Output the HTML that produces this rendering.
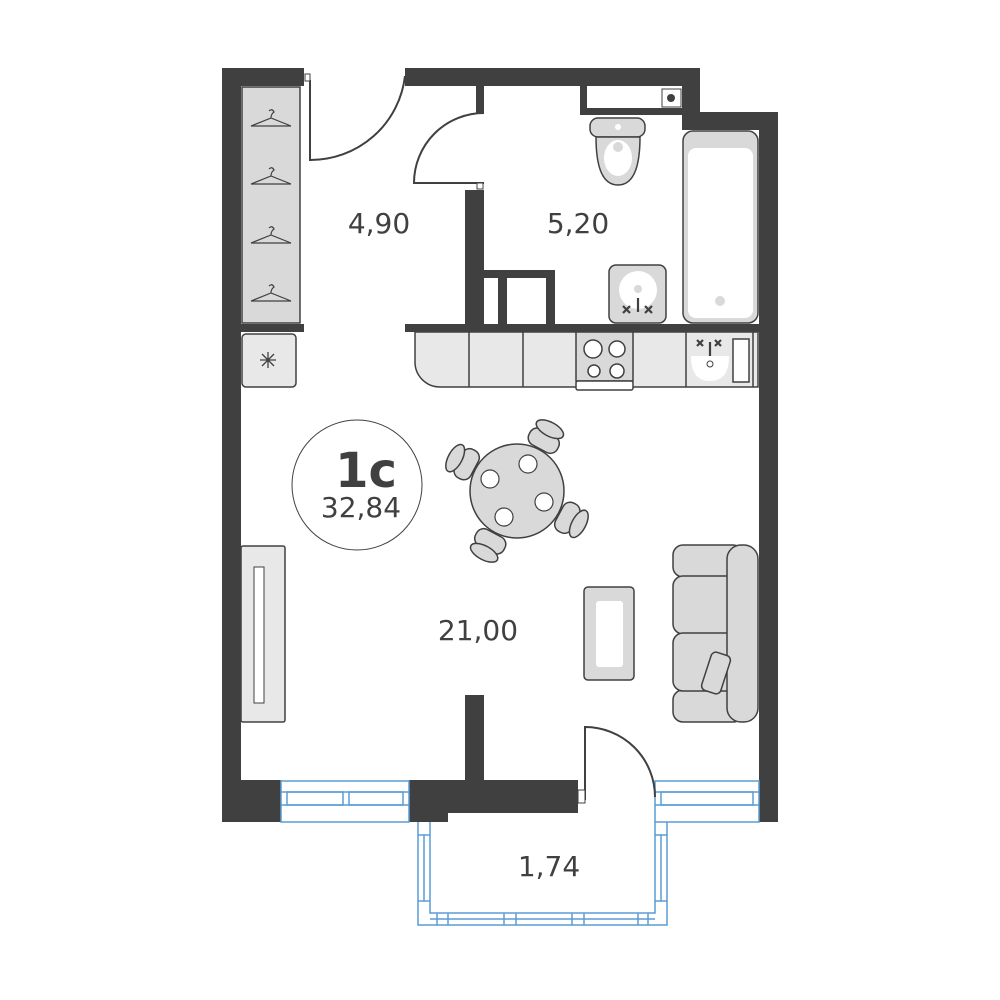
<!DOCTYPE html>
<html><head><meta charset="utf-8"><style>html,body{margin:0;padding:0;background:#fff}svg{display:block}text{font-family:"DejaVu Sans","Liberation Sans",sans-serif;fill:#404040}</style></head><body>
<svg width="1000" height="1000" viewBox="0 0 1000 1000" xmlns="http://www.w3.org/2000/svg">
<g fill="#404040">
<rect x="222" y="68" width="82" height="18"/>
<rect x="222" y="68" width="19" height="754"/>
<rect x="222" y="780" width="59" height="42"/>
<rect x="405" y="68" width="295" height="18"/>
<rect x="682" y="68" width="18" height="62"/>
<rect x="682" y="112" width="96" height="18"/>
<rect x="759" y="112" width="19" height="710"/>
<rect x="580" y="86" width="7" height="29"/>
<rect x="580" y="108" width="102" height="7"/>
<rect x="476" y="86" width="8" height="27"/>
<rect x="465" y="190" width="19" height="135"/>
<rect x="465" y="270" width="90" height="8"/>
<rect x="498" y="270" width="9" height="55"/>
<rect x="546" y="270" width="9" height="55"/>
<rect x="405" y="324" width="355" height="8"/>
<rect x="222" y="324" width="82" height="8"/>
<rect x="465" y="695" width="19" height="85"/>
<rect x="409" y="780" width="169" height="33"/>
<rect x="409" y="780" width="39" height="42"/>
</g>
<rect x="662" y="89" width="19" height="18" fill="#fff" stroke="#404040"/>
<circle cx="671" cy="98" r="4" fill="#404040"/>
<g fill="none" stroke="#5b9bd5" stroke-width="1.5">
<rect x="281" y="781" width="128" height="41"/>
<line x1="281" y1="792" x2="409" y2="792"/><line x1="281" y1="805" x2="409" y2="805"/>
<rect x="287" y="792" width="56" height="13"/><rect x="349" y="792" width="54" height="13"/>
<rect x="655" y="781" width="104" height="41"/>
<line x1="655" y1="792" x2="759" y2="792"/><line x1="655" y1="805" x2="759" y2="805"/>
<rect x="661" y="792" width="92" height="13"/>
<polyline points="418,822 418,925 667,925 667,822"/>
<polyline points="430,822 430,913 655,913 655,822"/>
<line x1="418" y1="835" x2="430" y2="835"/><line x1="418" y1="901" x2="430" y2="901"/>
<line x1="424" y1="835" x2="424" y2="901"/>
<line x1="655" y1="835" x2="667" y2="835"/><line x1="655" y1="901" x2="667" y2="901"/>
<line x1="661" y1="835" x2="661" y2="901"/>
<line x1="430" y1="919" x2="655" y2="919"/>
<line x1="437" y1="913" x2="437" y2="925"/><line x1="448" y1="913" x2="448" y2="925"/>
<line x1="504" y1="913" x2="504" y2="925"/><line x1="516" y1="913" x2="516" y2="925"/>
<line x1="572" y1="913" x2="572" y2="925"/><line x1="584" y1="913" x2="584" y2="925"/>
<line x1="638" y1="913" x2="638" y2="925"/><line x1="648" y1="913" x2="648" y2="925"/>
</g>
<g fill="none" stroke="#404040" stroke-width="2">
<path d="M310 80 L310 160 A95 95 0 0 0 405 76"/>
<path d="M484 183 L414 183 A70 70 0 0 1 484 113"/>
<path d="M585 800 L585 727 A70 70 0 0 1 655 797"/>
</g>
<rect x="305" y="74" width="5" height="7" fill="#fff" stroke="#404040"/>
<rect x="477" y="183" width="6" height="6" fill="#fff" stroke="#404040"/>
<rect x="578" y="790" width="7" height="13" fill="#fff" stroke="#404040"/>
<g stroke="#404040" stroke-width="1.5">
<rect x="242" y="87" width="58" height="236" fill="#d9d9d9"/>
<g fill="none" stroke-width="1.2">
<path d="M251 126 L271 118 L291 126 Z M271 118 q0-4 3-6 q-2-4-5-1"/>
<path d="M251 184 L271 176 L291 184 Z M271 176 q0-4 3-6 q-2-4-5-1"/>
<path d="M251 243 L271 235 L291 243 Z M271 235 q0-4 3-6 q-2-4-5-1"/>
<path d="M251 301 L271 293 L291 301 Z M271 293 q0-4 3-6 q-2-4-5-1"/>
</g>
<rect x="242" y="334" width="54" height="53" rx="4" fill="#e8e8e8"/>
<path d="M415 332 H758 V387 H440 A25 25 0 0 1 415 362 Z" fill="#e8e8e8"/>
<line x1="469" y1="332" x2="469" y2="387"/><line x1="523" y1="332" x2="523" y2="387"/>
<line x1="686" y1="332" x2="686" y2="387"/><line x1="753" y1="332" x2="753" y2="387"/>
<rect x="576" y="332" width="57" height="49" fill="#d9d9d9"/>
<rect x="576" y="381" width="57" height="9" rx="2" fill="#fff"/>
<circle cx="593" cy="349" r="9" fill="#fff"/><circle cx="617" cy="349" r="8" fill="#fff"/>
<circle cx="594" cy="371" r="6" fill="#fff"/><circle cx="617" cy="371" r="7" fill="#fff"/>
<rect x="733" y="339" width="16" height="43" fill="#fff"/>
<rect x="590" y="118" width="55" height="19" rx="8" fill="#d9d9d9"/>
<path d="M596 137 Q596 185 618 185 Q640 185 640 137 Z" fill="#d9d9d9"/>
<rect x="609" y="265" width="57" height="58" rx="7" fill="#d9d9d9"/>
<rect x="683" y="131" width="75" height="192" rx="10" fill="#d9d9d9"/>
<rect x="673" y="545" width="70" height="32" rx="10" fill="#d9d9d9"/>
<rect x="673" y="690" width="70" height="32" rx="10" fill="#d9d9d9"/>
<rect x="673" y="576" width="70" height="58" rx="10" fill="#d9d9d9"/>
<rect x="673" y="633" width="70" height="58" rx="10" fill="#d9d9d9"/>
<rect x="727" y="545" width="31" height="177" rx="14" fill="#d9d9d9"/>
<rect x="706" y="653" width="20" height="40" rx="5" transform="rotate(18 716 673)" fill="#d9d9d9"/>
<rect x="584" y="587" width="50" height="93" rx="4" fill="#d9d9d9"/>
<rect x="241" y="546" width="44" height="176" rx="2" fill="#e8e8e8"/>
<rect x="254" y="567" width="10" height="136" fill="#fff" stroke-width="1"/>
</g>
<rect x="688" y="148" width="65" height="170" rx="8" fill="#fff"/>
<circle cx="720" cy="301" r="5" fill="#d9d9d9"/>
<rect x="596" y="601" width="27" height="66" rx="3" fill="#fff"/>
<ellipse cx="618" cy="158" rx="14" ry="18" fill="#fff"/>
<circle cx="618" cy="147" r="5" fill="#d9d9d9"/><circle cx="618" cy="127" r="3" fill="#fff"/>
<circle cx="638" cy="290" r="19" fill="#fff"/><circle cx="638" cy="289" r="4" fill="#d9d9d9"/>
<path d="M691 356 Q691 381 710 381 Q729 381 729 356 Z" fill="#fff"/>
<g stroke="#404040" stroke-width="2.2"><path d="M623 306 l7 7 m0 -7 l-7 7 M645 306 l7 7 m0 -7 l-7 7 M638 298 v14 M697 340 l6 6 m0 -6 l-6 6 M715 340 l6 6 m0 -6 l-6 6 M710 342 v14"/>
<path d="M268 352 v16 M260 360 h16 M262 354 l12 12 M274 354 l-12 12" stroke-width="1.3"/></g>
<circle cx="710" cy="364" r="3" fill="#fff" stroke="#404040"/>
<g stroke="#404040" stroke-width="1.5" fill="#d9d9d9">
<g transform="rotate(28 517 491)">
<rect x="501" y="425" width="32" height="18" rx="8"/><rect x="501" y="539" width="32" height="18" rx="8"/>
<rect x="451" y="475" width="18" height="32" rx="8"/><rect x="565" y="475" width="18" height="32" rx="8"/>
<ellipse cx="517" cy="421" rx="15" ry="7"/><ellipse cx="517" cy="561" rx="15" ry="7"/>
<ellipse cx="447" cy="491" rx="7" ry="15"/><ellipse cx="587" cy="491" rx="7" ry="15"/>
</g>
<circle cx="517" cy="491" r="47"/>
</g>
<g fill="#fff" stroke="#404040" stroke-width="1.2">
<circle cx="528" cy="464" r="9"/><circle cx="544" cy="502" r="9"/><circle cx="504" cy="517" r="9"/><circle cx="490" cy="479" r="9"/>
</g>
<circle cx="357" cy="485" r="65" fill="#fff" stroke="#404040" stroke-width="1"/>
<text x="366" y="487" font-size="48" font-weight="bold" text-anchor="middle">1c</text>
<text x="361" y="517" font-size="28" text-anchor="middle">32,84</text>
<text x="379" y="233" font-size="28" text-anchor="middle">4,90</text>
<text x="578" y="233" font-size="28" text-anchor="middle">5,20</text>
<text x="478" y="640" font-size="28" text-anchor="middle">21,00</text>
<text x="549" y="876" font-size="28" text-anchor="middle">1,74</text>
</svg>
</body></html>
